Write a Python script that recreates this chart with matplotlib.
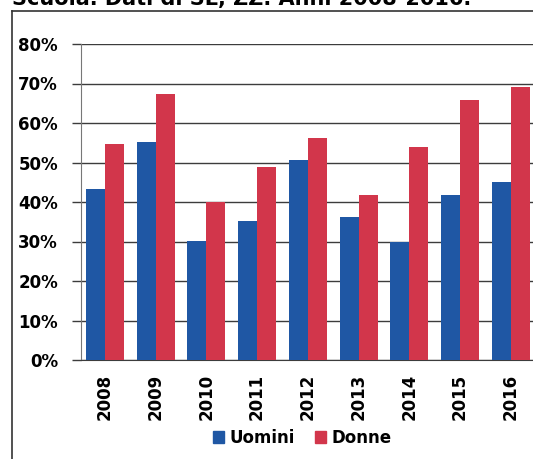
import matplotlib
matplotlib.use('Agg')
import matplotlib.pyplot as plt
from matplotlib.lines import Line2D
from matplotlib.patches import Patch
from matplotlib.ticker import PercentFormatter
import numpy as np

years = ['2008', '2009', '2010', '2011', '2012', '2013', '2014', '2015', '2016']
uomini = [43.3, 55.2, 30.2, 35.1, 50.6, 36.2, 30.0, 41.8, 45.0]
donne = [54.6, 67.3, 39.9, 48.8, 56.3, 41.8, 53.8, 65.8, 69.0]
title = "Scuola. Dati di SL, ZZ. Anni 2008-2016."

BLUE = '#1f57a4'
RED = '#d2364b'
GRID = '#3c3c3c'

W, H = 533, 459
fig = plt.figure(figsize=(W / 100, H / 100), dpi=100)

# plot area in pixel terms
left_px, top_px, bottom_px = 81, 44, 360
xmin, xmax = -0.47, 8.55
unit_px = 50.75
ax = fig.add_axes([left_px / W, (H - bottom_px) / H,
                   (xmax - xmin) * unit_px / W, (bottom_px - top_px) / H])

x = np.arange(len(years))
bw = 0.375
ax.bar(x - bw / 2, uomini, bw, color=BLUE, label='Uomini', zorder=3)
ax.bar(x + bw / 2, donne, bw, color=RED, label='Donne', zorder=3)

ax.set_xlim(xmin, xmax)
ax.set_ylim(0, 80)
ax.set_yticks(range(0, 81, 10))
ax.yaxis.set_major_formatter(PercentFormatter(decimals=0))
ax.set_xticks(x)
ax.set_xticklabels(years, rotation=90, fontsize=12, fontweight='bold')
for lab in ax.get_yticklabels():
    lab.set_fontsize(12)
    lab.set_fontweight('bold')

ax.grid(axis='y', color=GRID, linewidth=1.0, zorder=0)
ax.tick_params(axis='y', length=6.5, width=1.0, color=GRID, pad=10)
ax.tick_params(axis='x', length=0, pad=10)
for s in ['top', 'right']:
    ax.spines[s].set_visible(False)
ax.spines['left'].set_color('#777777')
ax.spines['bottom'].set_color(GRID)

handles = [Patch(color=BLUE, label='Uomini'), Patch(color=RED, label='Donne')]
fig.legend(handles=handles, loc='center', bbox_to_anchor=(302 / W, (H - 438) / H),
           ncol=2, frameon=False, prop={'size': 12, 'weight': 'bold'},
           handlelength=0.7, handleheight=0.7, handletextpad=0.3, columnspacing=1.2)

# surrounding frame
fig.add_artist(Line2D([12 / W, 12 / W], [0, (H - 11) / H], color='#333333', lw=1.2))
fig.add_artist(Line2D([12 / W, 1], [(H - 11) / H, (H - 11) / H], color='#333333', lw=1.2))

# caption above the frame
fig.text(12 / W, (H - 5) / H, title, fontsize=15, fontweight='bold',
         ha='left', va='baseline')

fig.savefig('out.png', dpi=100)
